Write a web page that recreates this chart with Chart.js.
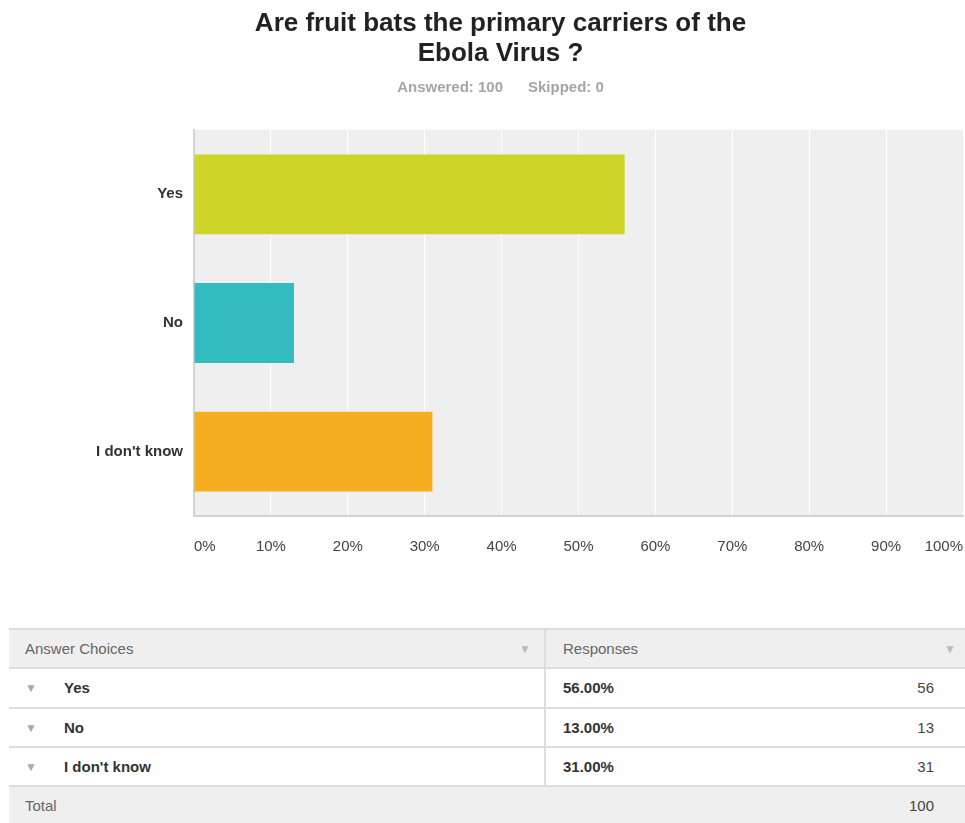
<!DOCTYPE html>
<html>
<head>
<meta charset="utf-8">
<script src="https://cdn.jsdelivr.net/npm/chart.js@4"></script>
<style>
  body { margin: 0; background: #fff; font-family: "Liberation Sans", Arial, sans-serif; }
  #wrap { position: absolute; left: 0; top: 0; width: 965px; height: 582px; }
  table {
    position: absolute; left: 9px; top: 628px; width: 956px;
    border-collapse: collapse; font-size: 15px; color: #333;
  }
  td { height: 37.3px; padding: 0; border-top: 2px solid #ddd; border-bottom: 2px solid #ddd; }
  tr.head td, tr.total td { background: #efefef; color: #666; }
  td.c1 { width: 535px; border-right: 2px solid #ddd; position: relative; }
  td.c2 { position: relative; }
  .arr { color: #aaa; font-size: 12px; }
  .lbl { font-weight: bold; }
</style>
</head>
<body>
<div id="wrap"><canvas id="chart"></canvas></div>
<table id="tbl"></table>
<script>
const categories = ["Yes", "No", "I don't know"];
const percents = [56, 13, 31];
const counts = [56, 13, 31];
const totalCount = 100;
const skipped = 0;
const tickLabels = ["0%", "10%", "20%", "30%", "40%", "50%", "60%", "70%", "80%", "90%", "100%"];
const barColors = ["rgb(206, 212, 40)", "rgb(50, 188, 191)", "rgb(246, 173, 32)"];

// gray plot background
const plotBg = {
  id: "plotBg",
  beforeDraw(chart) {
    const { ctx, chartArea: a } = chart;
    ctx.save();
    ctx.fillStyle = "#efefef";
    ctx.fillRect(a.left, a.top, a.right - a.left, a.bottom - a.top);
    ctx.restore();
  }
};

new Chart(document.getElementById("chart"), {
  type: "bar",
  data: {
    labels: categories,
    datasets: [{
      data: percents,
      backgroundColor: barColors,
      barPercentage: 0.62,
      categoryPercentage: 1
    }]
  },
  options: {
    indexAxis: "y",
    responsive: true,
    maintainAspectRatio: false,
    animation: false,
    layout: { padding: { top: 9, left: 38, right: 2, bottom: 4 } },
    plugins: {
      legend: { display: false },
      tooltip: { enabled: false },
      title: {
        display: true,
        text: ["Are fruit bats the primary carriers of the", "Ebola Virus ?"],
        color: "#222",
        font: { family: "'Liberation Sans', Arial", size: 26, weight: "bold", lineHeight: 1.154 },
        padding: { top: 0, bottom: 10 }
      },
      subtitle: {
        display: true,
        text: "Answered: " + totalCount + "      Skipped: " + skipped,
        color: "#a5a5a5",
        font: { family: "'Liberation Sans', Arial", size: 15, weight: "bold", lineHeight: 1.2 },
        padding: { top: 0, bottom: 33 }
      }
    },
    scales: {
      x: {
        min: 0,
        max: 100,
        afterFit(axis) { axis.paddingLeft = 0; axis.paddingRight = 0; },
        ticks: {
          stepSize: 10,
          padding: 22,
          align: "inner",
          color: "#444",
          font: { family: "'Liberation Sans', Arial", size: 15 },
          callback: (v, i) => tickLabels[i]
        },
        grid: { color: "#ffffff", lineWidth: 1, drawTicks: false },
        border: { color: "#d2d2d2", width: 2 }
      },
      y: {
        afterFit(axis) { axis.width = 156; },
        ticks: {
          padding: 11,
          color: "#333",
          font: { family: "'Liberation Sans', Arial", size: 15, weight: "bold" }
        },
        grid: { display: false, drawTicks: false },
        border: { color: "#d2d2d2", width: 2 }
      }
    }
  },
  plugins: [plotBg]
});

// summary table
const tbl = document.getElementById("tbl");
let html = '<tr class="head"><td class="c1"><span style="position:absolute;left:16px;top:10px">Answer Choices</span>' +
  '<span class="arr" style="position:absolute;left:510px;top:12px;color:#bbb">&#9660;</span></td>' +
  '<td class="c2"><span style="position:absolute;left:17px;top:10px">Responses</span>' +
  '<span class="arr" style="position:absolute;right:9px;top:12px;color:#bbb">&#9660;</span></td></tr>';
categories.forEach((c, i) => {
  html += '<tr><td class="c1"><span class="arr" style="position:absolute;left:16px;top:12px">&#9660;</span>' +
    '<span class="lbl" style="position:absolute;left:55px;top:10px">' + c + '</span></td>' +
    '<td class="c2"><span class="lbl" style="position:absolute;left:17px;top:10px">' + percents[i].toFixed(2) + '%</span>' +
    '<span style="position:absolute;right:31px;top:10px;color:#444">' + counts[i] + '</span></td></tr>';
});
html += '<tr class="total"><td style="border-right:none;position:relative"><span style="position:absolute;left:16px;top:10px">Total</span></td>' +
  '<td class="c2"><span style="position:absolute;right:31px;top:10px;color:#444">' + totalCount + '</span></td></tr>';
tbl.innerHTML = html;
</script>
</body>
</html>
